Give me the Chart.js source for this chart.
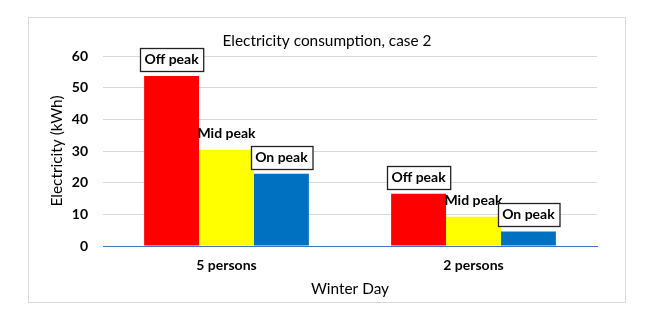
<!DOCTYPE html>
<html><head><meta charset="utf-8">
<script src="https://cdn.jsdelivr.net/npm/chart.js@4"></script>
<style>html,body{margin:0;padding:0;background:#fff}#wrap{width:656px;height:313px;position:relative}</style>
</head><body><div id="wrap"><canvas id="c"></canvas></div>
<script>
const categories = ['5 persons', '2 persons'];
const periods = ['Off peak', 'Mid peak', 'On peak'];
const offPeak = [53.7, 16.5];
const midPeak = [30.4, 9.2];
const onPeak = [22.8, 4.6];
const yTicks = [0, 10, 20, 30, 40, 50, 60];
const colors = ['#ff0000', '#ffff00', '#0070c0'];
const boxed = [true, false, true];

const FONT = 'Lato, "Liberation Sans", sans-serif';

const framePlugin = {
  id: 'frame',
  beforeDraw(chart) {
    const ctx = chart.ctx;
    ctx.save();
    ctx.fillStyle = '#fff';
    ctx.fillRect(0, 0, chart.width, chart.height);
    ctx.strokeStyle = '#d9d9d9';
    ctx.lineWidth = 1;
    ctx.strokeRect(28.5, 17.5, 597, 285);
    ctx.fillStyle = '#000';
    ctx.font = '15.4px ' + FONT;
    ctx.textAlign = 'center';
    ctx.textBaseline = 'middle';
    ctx.fillText('Electricity consumption, case 2', chart.width / 2 - 1, 41.5);
    ctx.restore();
  }
};

const labelPlugin = {
  id: 'barLabels',
  afterDatasetsDraw(chart) {
    const ctx = chart.ctx;
    ctx.save();
    ctx.font = 'bold 14px ' + FONT;
    ctx.textAlign = 'center';
    ctx.textBaseline = 'middle';
    chart.data.datasets.forEach((ds, di) => {
      const meta = chart.getDatasetMeta(di);
      meta.data.forEach((bar) => {
        const txt = ds.label;
        if (boxed[di]) {
          const w = ctx.measureText(txt).width + 9;
          const h = 23;
          const bottom = bar.y - 5;
          const x0 = Math.round(bar.x - w / 2) + 0.5;
          const y0 = Math.round(bottom - h) + 0.5;
          ctx.fillStyle = '#fff';
          ctx.fillRect(x0, y0, w, h);
          ctx.strokeStyle = '#222';
          ctx.lineWidth = 1.3;
          ctx.strokeRect(x0, y0, w, h);
          ctx.fillStyle = '#000';
          ctx.fillText(txt, bar.x, bottom - h / 2);
        } else {
          ctx.fillStyle = '#000';
          ctx.fillText(txt, bar.x, bar.y - 16);
        }
      });
    });
    ctx.restore();
  }
};

new Chart(document.getElementById('c'), {
  type: 'bar',
  data: {
    labels: categories,
    datasets: [
      { label: periods[0], data: offPeak, backgroundColor: colors[0] },
      { label: periods[1], data: midPeak, backgroundColor: colors[1] },
      { label: periods[2], data: onPeak, backgroundColor: colors[2] }
    ]
  },
  options: {
    responsive: true,
    maintainAspectRatio: false,
    animation: false,
    devicePixelRatio: 1,
    layout: { padding: { left: 48, top: 56, right: 59, bottom: 13 } },
    datasets: { bar: { categoryPercentage: 0.667, barPercentage: 1.0 } },
    plugins: { legend: { display: false }, title: { display: false }, tooltip: { enabled: false } },
    scales: {
      x: {
        grid: { display: false, drawTicks: false },
        border: { display: true, color: '#4472c4', width: 1 },
        ticks: { color: '#000', font: { family: FONT, size: 14, weight: 'bold' }, padding: 11 },
        title: { display: true, text: 'Winter Day', color: '#000', font: { family: FONT, size: 15.4 }, padding: { top: 0, bottom: 2 } },
        afterFit(s) { s.height = 54; }
      },
      y: {
        min: 0, max: 60,
        afterBuildTicks(s) { s.ticks = yTicks.map(v => ({ value: v })); },
        grid: { color: (c) => c.tick && c.tick.value === 0 ? '#4472c4' : '#d9d9d9', drawTicks: false, lineWidth: 1 },
        border: { display: false },
        ticks: { color: '#000', font: { family: FONT, size: 14, weight: 'bold' }, padding: 15 },
        title: { display: true, text: 'Electricity (kWh)', color: '#000', font: { family: FONT, size: 15.4 }, padding: 0 },
        afterFit(s) { s.width = 55; }
      }
    }
  },
  plugins: [framePlugin, labelPlugin]
});
</script>
</body></html>
